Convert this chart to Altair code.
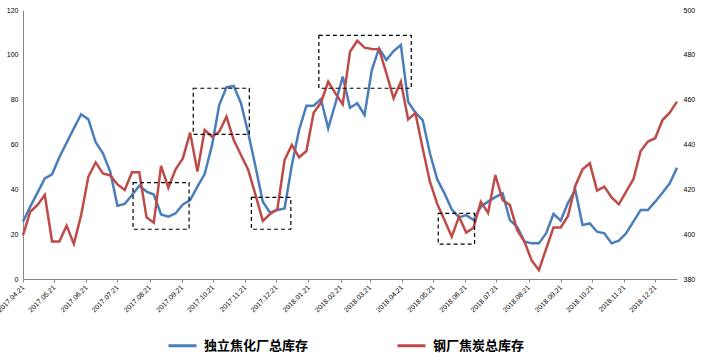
import altair as alt
import pandas as pd

# ---- data -------------------------------------------------------------
start_date = "2017-04-21"
n_weeks = 91
dates = [d.strftime("%Y-%m-%dT00:00:00") for d in pd.date_range(start_date, periods=n_weeks, freq="7D")]

blue_name = "独立焦化厂总库存"
red_name = "钢厂焦炭总库存"

blue_vals = [25.6, 32.3, 38.5, 44.9, 46.7, 54.3, 60.8, 67.2, 73.5, 71.2,
             61.0, 56.1, 47.9, 32.7, 33.5, 37.5, 41.6, 39.0, 37.7, 28.8,
             27.8, 29.3, 33.3, 35.2, 41.2, 46.8, 59.5, 77.6, 85.5, 86.1,
             78.4, 65.0, 50.1, 34.5, 29.6, 30.8, 31.5, 50.9, 66.5, 77.3,
             77.3, 80.3, 67.2, 78.4, 90.3, 76.4, 78.4, 73.2, 93.2, 102.9,
             97.7, 101.7, 104.4, 79.1, 74.2, 70.9, 56.1, 44.5, 38.2, 31.1,
             27.5, 28.5, 26.3, 32.3, 34.5, 36.5, 38.2, 26.3, 23.3, 16.7,
             15.9, 15.9, 20.4, 29.0, 26.0, 34.0, 39.7, 24.1, 24.8, 21.1,
             20.4, 15.9, 17.1, 20.4, 25.6, 30.8, 30.8, 34.5, 38.5, 42.7,
             49.6]

red_vals = [399.6, 410.0, 413.0, 417.5, 396.7, 396.7, 403.8, 395.6, 408.5, 425.7,
            432.0, 427.1, 426.2, 422.2, 419.7, 427.6, 427.6, 407.5, 405.1, 430.5,
            420.7, 428.9, 433.8, 445.3, 427.9, 446.5, 443.5, 445.7, 452.4, 442.0,
            435.3, 428.6, 417.5, 405.9, 409.0, 411.1, 433.1, 439.8, 434.3, 437.1,
            454.2, 458.7, 468.0, 462.8, 457.9, 481.4, 486.3, 483.2, 482.6, 482.5,
            471.8, 460.6, 468.0, 451.2, 454.0, 438.3, 423.4, 413.5, 406.3, 398.9,
            407.8, 400.7, 402.9, 414.5, 409.5, 426.4, 415.2, 413.0, 401.9, 396.7,
            388.3, 384.0, 393.5, 403.0, 403.0, 408.1, 421.5, 428.9, 431.6, 419.4,
            421.2, 416.4, 413.3, 419.0, 424.5, 437.1, 441.3, 442.8, 450.9, 454.2,
            459.1]

# dashed highlight boxes (date range, left-axis value range)
box_x1 = ["2017-08-05T00:00:00", "2017-10-02T00:00:00", "2017-11-27T00:00:00", "2018-01-31T00:00:00", "2018-05-26T00:00:00"]
box_x2 = ["2017-09-28T00:00:00", "2017-11-25T00:00:00", "2018-01-04T00:00:00", "2018-04-30T00:00:00", "2018-06-30T00:00:00"]
box_y1 = [22.2, 64.5, 22.2, 85.1, 15.6]
box_y2 = [43.0, 85.1, 36.4, 108.7, 29.3]

x_tick_dates = [(2017, m) for m in range(4, 13)] + [(2018, m) for m in range(1, 13)]
left_ticks = [0, 20, 40, 60, 80, 100, 120]
right_ticks = [380, 400, 420, 440, 460, 480, 500]

# ---- tables -----------------------------------------------------------
df_blue = pd.DataFrame({"date": dates, "value": blue_vals, "series": blue_name})
df_red = pd.DataFrame({"date": dates, "value": red_vals, "series": red_name})
df_box = pd.DataFrame({"x1": box_x1, "x2": box_x2, "y1": box_y1, "y2": box_y2})

num_font = "Liberation Sans"
axis_gray = "#868686"

x_scale = alt.Scale(domain=[alt.DateTime(year=2017, month=4, date=21),
                            alt.DateTime(year=2019, month=1, date=11)], nice=False)
x_axis = alt.Axis(values=[alt.DateTime(year=y, month=m, date=21) for y, m in x_tick_dates],
                  format="%Y.%m.%d", labelAngle=-45, labelAlign="right", labelBaseline="middle",
                  labelFont=num_font, labelFontSize=7, labelColor="#000000", labelOverlap=False,
                  domainColor=axis_gray, domainWidth=1, tickColor=axis_gray, tickSize=3,
                  labelPadding=4, grid=False, title=None)

color = alt.Color("series:N",
                  scale=alt.Scale(domain=[blue_name, red_name], range=["#4A7EBB", "#BE4B48"]),
                  legend=alt.Legend(orient="none", legendX=144, legendY=320, direction="horizontal",
                                    title=None, symbolType="stroke", symbolSize=784,
                                    symbolStrokeWidth=3, labelFont="Noto Sans CJK SC",
                                    labelFontSize=13, labelFontWeight="bold", labelColor="#000000",
                                    labelOffset=6, columnPadding=82, padding=0))

blue_line = alt.Chart(df_blue).mark_line(strokeWidth=2.5).encode(
    x=alt.X("date:T", scale=x_scale, axis=x_axis),
    y=alt.Y("value:Q", scale=alt.Scale(domain=[0, 120], nice=False),
            axis=alt.Axis(orient="left", values=left_ticks, ticks=False, grid=False, title=None,
                          domainColor=axis_gray, labelFont=num_font, labelFontSize=7,
                          labelColor="#000000", labelPadding=5)),
    color=color,
)

red_line = alt.Chart(df_red).mark_line(strokeWidth=2.5).encode(
    x=alt.X("date:T", scale=x_scale, axis=x_axis),
    y=alt.Y("value:Q", scale=alt.Scale(domain=[380, 500], nice=False),
            axis=alt.Axis(orient="right", values=right_ticks, ticks=False, grid=False, title=None,
                          domain=False, labelFont=num_font, labelFontSize=7,
                          labelColor="#000000", labelPadding=6)),
    color=color,
)

boxes = alt.Chart(df_box).mark_rect(fillOpacity=0, stroke="#000000", strokeWidth=1.2,
                                     strokeDash=[4, 3]).encode(
    x=alt.X("x1:T", scale=x_scale, axis=x_axis), x2="x2:T",
    y=alt.Y("y1:Q", scale=alt.Scale(domain=[0, 120], nice=False), axis=None),
    y2="y2:Q",
)

chart = alt.layer(blue_line, red_line, boxes).resolve_scale(y="independent").properties(
    width=654,
    height=269,
    autosize=alt.AutoSizeParams(type="none"),
    padding={"left": 23, "top": 10, "right": 25, "bottom": 74},
    background="#FFFFFF",
).configure_view(stroke=None)

chart.save("out.html", embed_options={"renderer": "svg", "actions": False})
